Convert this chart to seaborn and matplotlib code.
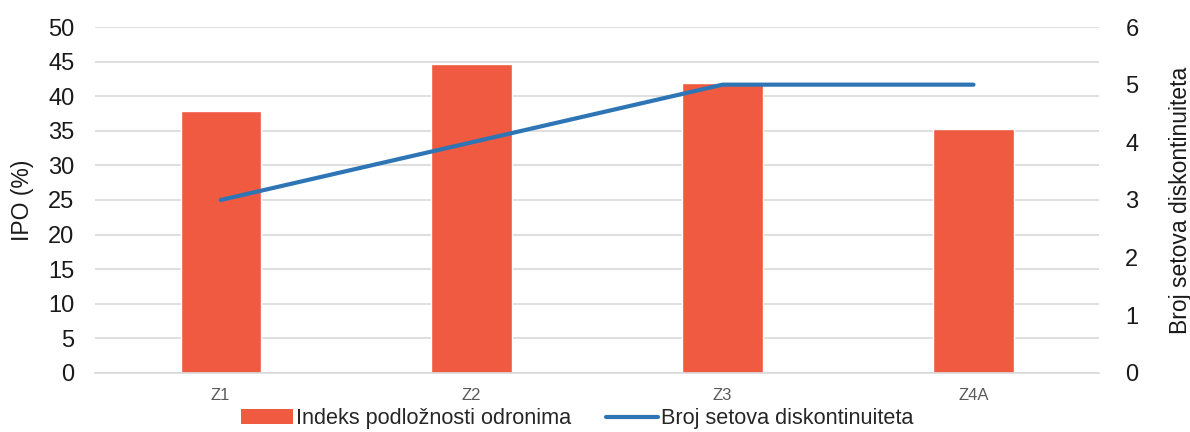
import matplotlib
matplotlib.use("Agg")
import matplotlib.pyplot as plt
import seaborn as sns
import pandas as pd
import numpy as np
from matplotlib.patches import Patch
from matplotlib.lines import Line2D

categories = ["Z1", "Z2", "Z3", "Z4A"]
ipo_values = [37.9, 44.6, 41.9, 35.2]
set_counts = [3, 4, 5, 5]
left_ticks = list(range(0, 51, 5))
right_ticks = list(range(0, 7))

bar_color = "#F05A40"
line_color = "#2E75B6"

sns.set_theme(style="white")
plt.rcParams["font.family"] = ["Liberation Sans", "DejaVu Sans"]

df = pd.DataFrame({"cat": categories, "ipo": ipo_values, "sets": set_counts})

fig = plt.figure(figsize=(11.9, 4.32), dpi=100)
ax = fig.add_axes([0.080, 0.1366, 0.8435, 0.8009])

sns.barplot(data=df, x="cat", y="ipo", color=bar_color, saturation=1, width=0.32, ax=ax, zorder=2)
ax.set_ylim(0, 50)
ax.set_yticks(left_ticks)
ax.yaxis.grid(True, color="#D9D9D9", linewidth=1.2, zorder=0)
ax.set_axisbelow(True)
for s in ["top", "right", "left"]:
    ax.spines[s].set_visible(False)
ax.spines["bottom"].set_color("#D9D9D9")
ax.spines["bottom"].set_linewidth(1.2)
ax.tick_params(axis="y", labelsize=17, colors="#1a1a1a", length=0, pad=15)
ax.tick_params(axis="x", labelsize=12, colors="#595959", length=0, pad=11)
ax.set_xlabel("")
ax.set_ylabel("IPO (%)", fontsize=16.5, color="#1a1a1a")
ax.yaxis.set_label_coords(-0.061, 0.5)

ax2 = ax.twinx()
sns.lineplot(x=np.arange(len(categories)), y=set_counts, color=line_color, linewidth=3.0, ax=ax2,
             solid_capstyle="round")
ax2.set_ylim(0, 6)
ax2.set_yticks(right_ticks)
for s in ["top", "right", "left", "bottom"]:
    ax2.spines[s].set_visible(False)
ax2.tick_params(axis="y", labelsize=17, colors="#1a1a1a", length=0, pad=19)
ax2.set_ylabel("Broj setova diskontinuiteta", fontsize=16.5, color="#1a1a1a", labelpad=22)
ax.set_xlim(-0.5, len(categories) - 0.5)

handles = [Patch(facecolor=bar_color, edgecolor="none"),
           Line2D([0], [0], color=line_color, linewidth=3.0)]
labels = ["Indeks podložnosti odronima", "Broj setova diskontinuiteta"]
ax.legend(handles, labels, loc="center", bbox_to_anchor=(0.48, -0.132), ncol=2, frameon=False,
          fontsize=15.6, handlelength=2.4, columnspacing=1.6, handletextpad=0.15)

fig.savefig("out.png", dpi=100)
